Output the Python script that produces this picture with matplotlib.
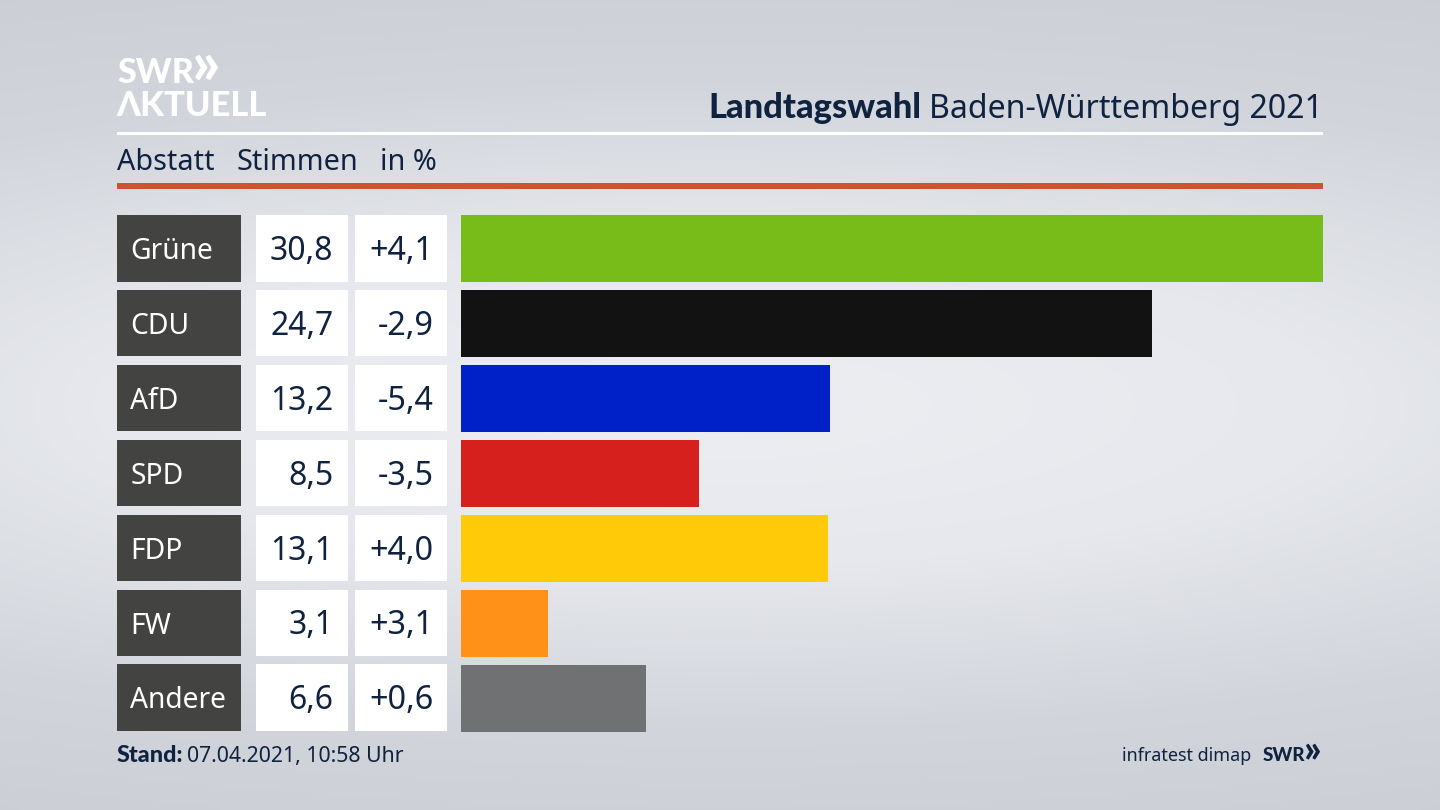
import numpy as np
import matplotlib
matplotlib.use("Agg")
import matplotlib.pyplot as plt
from matplotlib.patches import Rectangle

parties = ["Grüne", "CDU", "AfD", "SPD", "FDP", "FW", "Andere"]
votes = [30.8, 24.7, 13.2, 8.5, 13.1, 3.1, 6.6]
changes = ["+4,1", "-2,9", "-5,4", "-3,5", "+4,0", "+3,1", "+0,6"]
colors = ["#78bc1a", "#121212", "#0020c8", "#d6201e", "#ffcb08", "#ff9018", "#707172"]

plt.rcParams["font.family"] = ["Noto Sans", "DejaVu Sans"]
navy = "#0f2240"
bold = "Lato"

fig = plt.figure(figsize=(14.4, 8.1), dpi=100)

# background
bg = fig.add_axes([0, 0, 1, 1])
yy, xx = np.mgrid[0:1:162j, 0:1:288j]
dist = np.sqrt(((xx - 0.5) / 1.3) ** 2 + ((yy - 0.5) / 0.6) ** 2)
bg.imshow(np.clip(dist, 0, 1), cmap=matplotlib.colors.LinearSegmentedColormap.from_list(
    "bg", ["#eceef2", "#e6e8ed", "#d2d5db", "#cacdd4"]), vmin=0, vmax=1, aspect="auto",
    extent=[0, 1440, 810, 0], interpolation="bilinear")
bg.set_xlim(0, 1440)
bg.set_ylim(810, 0)
bg.axis("off")

# header
bg.add_patch(Rectangle((117, 132), 1206, 3, color="white", lw=0))
bg.add_patch(Rectangle((117, 183), 1206, 6, color="#cc5238", lw=0))
bg.text(117, 83, "SWR", color="white", fontsize=24.5, family=bold, fontweight="black", va="baseline", ha="left")
bg.text(192, 84, "»", color="white", fontsize=44, family=bold, fontweight="black", va="baseline", ha="left")
bg.text(116, 116, "ΛKTUELL", color="white", fontsize=24.8, family=bold, fontweight="black", va="baseline", ha="left")
bg.text(1323, 118, "Baden-Württemberg 2021", color=navy, fontsize=23.1, va="baseline", ha="right")
bg.text(921, 118, "Landtagswahl", color=navy, fontsize=24.8, family=bold, fontweight="black", va="baseline", ha="right")
bg.text(117, 170, "Abstatt", color=navy, fontsize=20.7, va="baseline", ha="left")
bg.text(236, 170, "Stimmen", color=navy, fontsize=20.7, va="baseline", ha="left")
bg.text(380, 170, "in %", color=navy, fontsize=20.7, va="baseline", ha="left")

# table cells
pitch = 74.9
for i, p in enumerate(parties):
    top = 215 + i * pitch
    bg.add_patch(Rectangle((117, top), 124, 66.5, color="#434341", lw=0))
    bg.add_patch(Rectangle((255.5, top), 92.5, 66.5, color="white", lw=0))
    bg.add_patch(Rectangle((354.5, top), 92.5, 66.5, color="white", lw=0))
    base = top + 44
    bg.text(130.5, base, p, color="white", fontsize=20.3, va="baseline", ha="left")
    bg.text(333.5, base + 1, f"{votes[i]:.1f}".replace(".", ","), color=navy, fontsize=23, va="baseline", ha="right")
    bg.text(433.5, base + 1, changes[i], color=navy, fontsize=23.3, va="baseline", ha="right")

# bars
ax = fig.add_axes([461 / 1440, 1 - 731.5 / 810, 862 / 1440, 516.5 / 810])
ax.patch.set_alpha(0)
ax.barh(range(len(parties)), votes, height=66.5 / pitch, color=colors)
ax.set_xlim(0, 30.8)
ax.set_ylim(len(parties) - 1 + 33.25 / pitch, -33.25 / pitch)
ax.axis("off")

# footer
bg.text(117, 762, "Stand:", color=navy, fontsize=16.8, family=bold, fontweight="black", va="baseline", ha="left")
bg.text(187, 762, "07.04.2021, 10:58 Uhr", color=navy, fontsize=15.3, va="baseline", ha="left")
bg.text(1251, 761, "infratest dimap", color=navy, fontsize=12.9, va="baseline", ha="right")
bg.text(1263, 761, "SWR", color=navy, fontsize=13.6, family=bold, fontweight="black", va="baseline", ha="left")
bg.text(1304, 761, "»", color=navy, fontsize=27, family=bold, fontweight="black", va="baseline", ha="left")

fig.savefig("out.png", dpi=100)
